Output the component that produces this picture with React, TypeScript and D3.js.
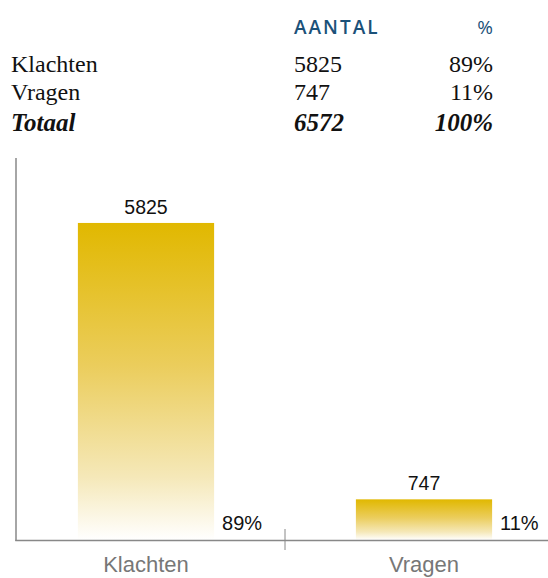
import React from "react";
import * as d3 from "d3";

const categories = ["Klachten", "Vragen"];
const counts = [5825, 747];
const percents = ["89%", "11%"];
const totalLabel = "Totaal";
const totalCount = "6572";
const totalPercent = "100%";
const headerCount = "AANTAL";
const headerPercent = "%";

const W = 548;
const H = 578;

export default function App() {
  const x = d3
    .scaleBand<string>()
    .domain(categories)
    .range([7, 563])
    .paddingInner(0.51)
    .paddingOuter(0.255);
  const y = d3.scaleLinear().domain([0, 7000]).range([540, 159]);
  const step = x.step();
  const tickX = (x(categories[1]) as number) - (step - x.bandwidth()) / 2;

  const serif = "'Liberation Serif', 'Times New Roman', serif";
  const sans = "'Liberation Sans', Arial, Helvetica, sans-serif";

  const rowsY = [71.5, 99.5];

  return (
    <svg
      width={W}
      height={H}
      style={{ position: "absolute", left: 0, top: 0, display: "block" }}
    >
      <defs>
        <linearGradient id="barGrad" x1="0" y1="0" x2="0" y2="1">
          <stop offset="0%" stopColor="#e1b800" />
          <stop offset="45%" stopColor="#ebcd5c" />
          <stop offset="80%" stopColor="#f5e8b8" />
          <stop offset="100%" stopColor="#ffffff" />
        </linearGradient>
      </defs>
      {/* table header */}
      <text
        x={294}
        y={34}
        fontFamily="'Open Sans', sans-serif"
        fontSize={19}
        fontWeight={600}
        letterSpacing={2}
        fill="#1b5179"
      >
        {headerCount}
      </text>
      <text
        x={493}
        y={34}
        textAnchor="end"
        fontFamily="'Open Sans', sans-serif"
        fontSize={19}
        fill="#1b5179"
      >
        {headerPercent}
      </text>
      {categories.map((c, i) => (
        <g key={c} fontFamily={serif} fontSize={24} fill="#111">
          <text x={11} y={rowsY[i]}>{c}</text>
          <text x={294} y={rowsY[i]}>{String(counts[i])}</text>
          <text x={493} y={rowsY[i]} textAnchor="end">{percents[i]}</text>
        </g>
      ))}
      <g fontFamily={serif} fontSize={25} fontWeight="bold" fontStyle="italic" fill="#111">
        <text x={11} y={130.5}>{totalLabel}</text>
        <text x={294} y={130.5}>{totalCount}</text>
        <text x={493} y={130.5} textAnchor="end">{totalPercent}</text>
      </g>

      {/* bars */}
      {categories.map((c, i) => {
        const bx = x(c) as number;
        const bw = x.bandwidth();
        const top = y(counts[i]);
        return (
          <g key={c}>
            <rect x={bx} y={top} width={bw} height={y(0) - top} fill="url(#barGrad)" />
            <text
              x={bx + bw / 2}
              y={top - 9}
              textAnchor="middle"
              fontFamily={sans}
              fontSize={19.5}
              fill="#111"
            >
              {String(counts[i])}
            </text>
            <text x={bx + bw + 8} y={530} fontFamily={sans} fontSize={20} fill="#111">
              {percents[i]}
            </text>
            <text
              x={bx + bw / 2}
              y={572}
              textAnchor="middle"
              fontFamily={sans}
              fontSize={22}
              fill="#777"
            >
              {c}
            </text>
          </g>
        );
      })}

      {/* axes */}
      <line x1={16} x2={16} y1={158} y2={541} stroke="#888" strokeWidth={1.5} />
      <line x1={15.25} x2={548} y1={540.5} y2={540.5} stroke="#888" strokeWidth={1.5} />
      <line x1={tickX} x2={tickX} y1={529} y2={550} stroke="#888" strokeWidth={1} />
    </svg>
  );
}
